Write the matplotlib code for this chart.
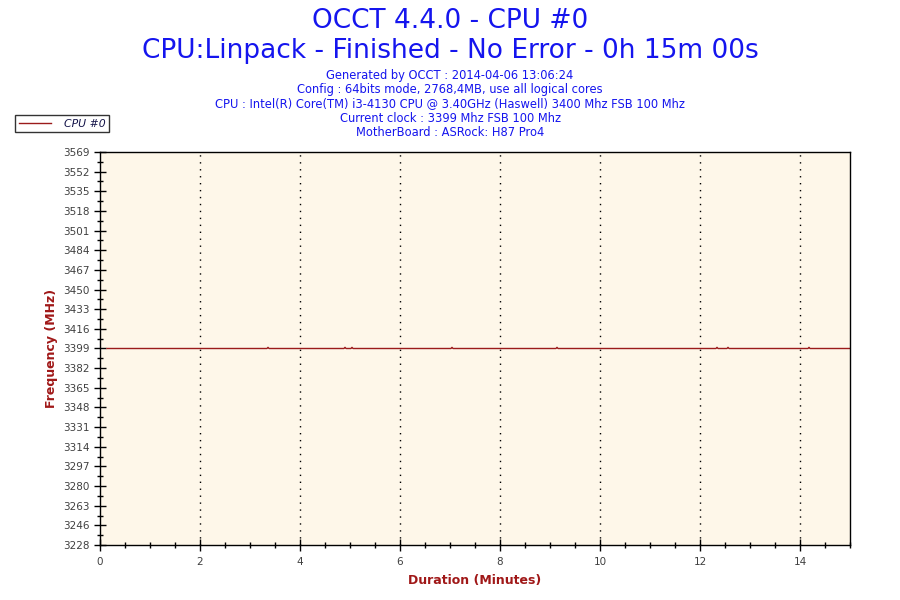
import matplotlib
matplotlib.use("Agg")
import matplotlib.pyplot as plt
from matplotlib.lines import Line2D
from matplotlib.ticker import MultipleLocator

# ---- data ----
times_min = [0.14, 3.34, 3.36, 3.38, 4.88, 4.90, 4.92, 5.02, 5.04, 5.06,
             7.02, 7.04, 7.06, 9.12, 9.14, 9.16, 12.32, 12.34, 12.36,
             12.54, 12.56, 12.58, 14.16, 14.18, 14.20, 15.0]
freq_mhz = [3399, 3399, 3400, 3399, 3399, 3400, 3399, 3399, 3400, 3399,
            3399, 3400, 3399, 3399, 3400, 3399, 3399, 3400, 3399,
            3399, 3400, 3399, 3399, 3400, 3399, 3399]
y_tick_labels = ["3228", "3246", "3263", "3280", "3297", "3314", "3331", "3348",
                 "3365", "3382", "3399", "3416", "3433", "3450", "3467", "3484",
                 "3501", "3518", "3535", "3552", "3569"]
x_tick_values = [0, 2, 4, 6, 8, 10, 12, 14]
series_name = "CPU #0"
title_lines = ["OCCT 4.4.0 - CPU #0",
               "CPU:Linpack - Finished - No Error - 0h 15m 00s"]
info_lines = ["Generated by OCCT : 2014-04-06 13:06:24",
              "Config : 64bits mode, 2768,4MB, use all logical cores",
              "CPU : Intel(R) Core(TM) i3-4130 CPU @ 3.40GHz (Haswell) 3400 Mhz FSB 100 Mhz",
              "Current clock : 3399 Mhz FSB 100 Mhz",
              "MotherBoard : ASRock: H87 Pro4"]

y_min, y_max = 3228.5, 3569.5
x_min, x_max = 0, 15

line_color = "#9B1B1B"
title_color = "#1515EE"
label_color = "#A01818"
tick_color = "#404040"

fig = plt.figure(figsize=(9, 6), dpi=100)
ax = fig.add_axes([100/900, 55/600, 750/900, 393/600])
ax.set_facecolor("#FEF7E9")

ax.plot(times_min, freq_mhz, color=line_color, lw=1.0)

ax.set_xlim(x_min, x_max)
ax.set_ylim(y_min, y_max)

step = (y_max - y_min) / (len(y_tick_labels) - 1)
yt = [y_min + i * step for i in range(len(y_tick_labels))]
ax.set_yticks(yt)
ax.set_yticklabels(y_tick_labels)
ax.yaxis.set_minor_locator(matplotlib.ticker.FixedLocator(
    [y_min + (i + 0.5) * step for i in range(len(y_tick_labels) - 1)]))
ax.set_xticks(x_tick_values)
ax.set_xticklabels([str(v) for v in x_tick_values])
ax.xaxis.set_minor_locator(MultipleLocator(0.5))

ax.tick_params(axis="both", which="major", direction="inout", length=9, width=1,
               color="black", labelsize=7.5, labelcolor=tick_color)
ax.tick_params(axis="both", which="minor", direction="inout", length=5, width=1,
               color="black")
ax.tick_params(axis="x", which="major", pad=4)
ax.tick_params(axis="y", which="major", pad=3)

for v in x_tick_values[1:]:
    ax.axvline(v, color="black", lw=1.0, linestyle=(0, (1, 4)), zorder=1)

for s in ax.spines.values():
    s.set_color("black")
    s.set_linewidth(1.0)

ax.set_xlabel("Duration (Minutes)", color=label_color, fontsize=9,
              fontweight="bold")
ax.xaxis.set_label_coords(0.5, -0.074)
ax.set_ylabel("Frequency (MHz)", color=label_color, fontsize=9,
              fontweight="bold")
ax.yaxis.set_label_coords(-0.056, 0.5)

# titles
fig.text(0.5, 1 - 21/600, title_lines[0], ha="center", va="center",
         fontsize=19, color=title_color)
fig.text(0.5, 1 - 51/600, title_lines[1], ha="center", va="center",
         fontsize=19, color=title_color)
for i, t in enumerate(info_lines):
    fig.text(0.5, 1 - (76 + 14 * i)/600, t, ha="center", va="center",
             fontsize=8.3, color=title_color)

# legend
leg = fig.legend(handles=[Line2D([0], [0], color=line_color, lw=1.0)],
                 labels=[series_name], loc="upper left",
                 bbox_to_anchor=(10/900, 1 - 110/600), frameon=True,
                 fancybox=False, edgecolor="black",
                 prop={"style": "italic", "size": 7.8},
                 handlelength=3.0, borderpad=0.3, handletextpad=1.2)
leg.get_frame().set_linewidth(1.0)
for txt in leg.get_texts():
    txt.set_color("#15154A")

fig.savefig("out.png", dpi=100, facecolor="white")
